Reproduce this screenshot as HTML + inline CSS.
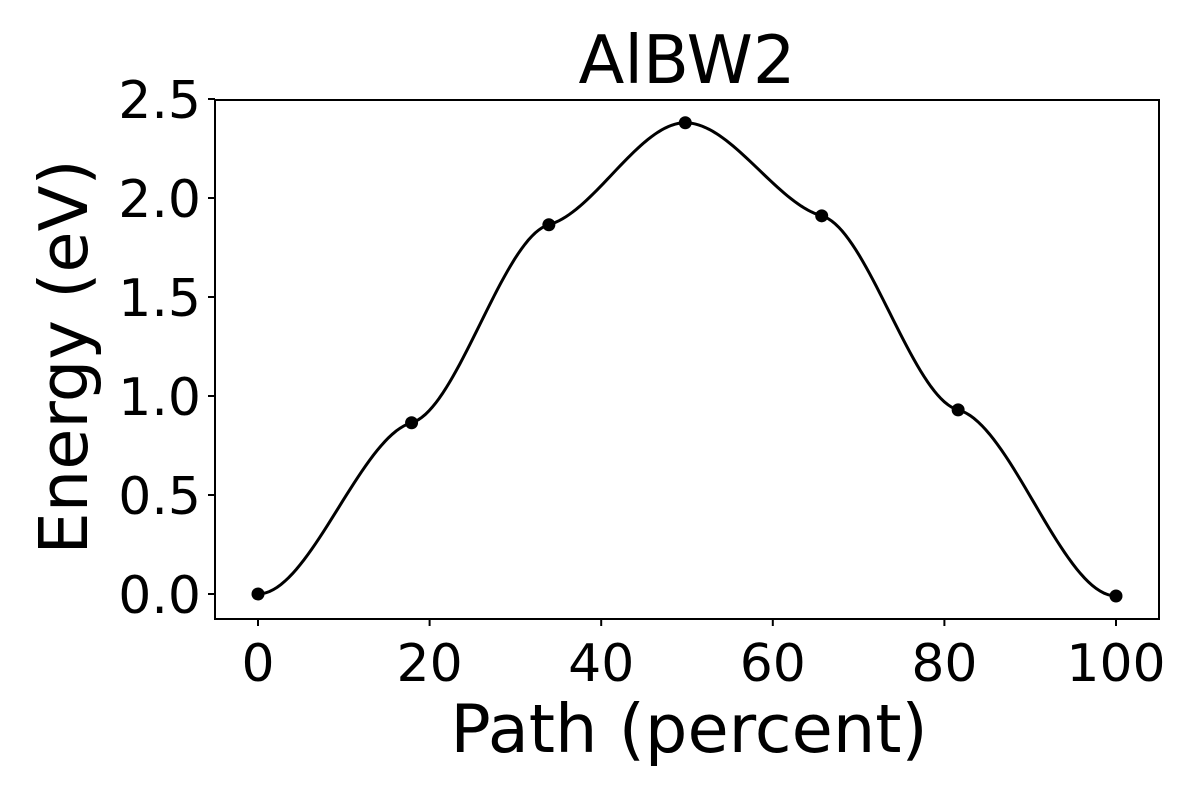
<!DOCTYPE html>
<html><head><meta charset="utf-8"><style>
html,body{margin:0;padding:0;background:#fff;}
svg{display:block;font-family:"DejaVu Sans","Liberation Sans",sans-serif;}
</style></head><body>
<svg id="chart" width="1200" height="800" viewBox="0 0 1200 800">
<rect x="215" y="100" width="944" height="519" fill="none" stroke="#000" stroke-width="2"/>
<g id="xt"></g>
<g id="yt"></g>
<g id="series"></g>
<text x="687" y="83" font-size="67" text-anchor="middle">AlBW2</text>
<text x="689" y="752" font-size="67" text-anchor="middle">Path (percent)</text>
<text transform="translate(87,357) rotate(-90)" font-size="67" text-anchor="middle">Energy (eV)</text>
</svg>
<script>
const xPos = [0, 17.9, 33.9, 49.8, 65.7, 81.6, 100];
const energies = [0, 0.865, 1.865, 2.38, 1.91, 0.93, -0.01];
const slopes = [0, 0.012, 0.012, 0, -0.012, -0.011, 0];
const xTicks = [0, 20, 40, 60, 80, 100];
const yTicks = [0.0, 0.5, 1.0, 1.5, 2.0, 2.5];
const yTickLabels = ["0.0","0.5","1.0","1.5","2.0","2.5"];

const NS = "http://www.w3.org/2000/svg";
function sx(v){ return 258 + v * 8.58; }
function sy(v){ return 594 - v * 198; }
function mk(tag, attrs, parent){ const e = document.createElementNS(NS, tag); for (const k in attrs) e.setAttribute(k, attrs[k]); parent.appendChild(e); return e; }

const xt = document.getElementById('xt');
xTicks.forEach(t => {
  const l = mk('line', {x1:sx(t), x2:sx(t), y1:619, y2:626, stroke:'#000', 'stroke-width':2}, xt);
  
  
  const tx = mk('text', {x:sx(t), y:681, 'font-size':52, 'text-anchor':'middle'}, xt);
  tx.textContent = t;
  
  
});
const yt = document.getElementById('yt');
yTicks.forEach((t, i) => {
  const l = mk('line', {x1:208, x2:215, y1:sy(t), y2:sy(t), stroke:'#000', 'stroke-width':2}, yt);
  
  
  const tx = mk('text', {x:201, y:sy(t) + 19, 'font-size':52, 'text-anchor':'end'}, yt);
  tx.textContent = yTickLabels[i];
  
  
});

const g = document.getElementById('series');
let d = "";
for (let i = 0; i < xPos.length - 1; i++) {
  const x0 = xPos[i], x1 = xPos[i+1], y0 = energies[i], y1 = energies[i+1];
  const h = x1 - x0, m0 = slopes[i] * h, m1 = slopes[i+1] * h;
  for (let k = 0; k <= 40; k++) {
    const t = k / 40;
    const h00 = 2*t*t*t - 3*t*t + 1, h10 = t*t*t - 2*t*t + t, h01 = -2*t*t*t + 3*t*t, h11 = t*t*t - t*t;
    const y = h00*y0 + h10*m0 + h01*y1 + h11*m1;
    const x = x0 + t*h;
    d += (d ? " L" : "M") + sx(x).toFixed(2) + " " + sy(y).toFixed(2);
  }
}
const p = mk('path', {d:d, fill:'none', stroke:'#000', 'stroke-width':3}, g);


xPos.forEach((x, i) => {
  const c = mk('circle', {cx:sx(x), cy:sy(energies[i]), r:6.5, fill:'#000'}, g);
  
  
});
</script>
</body></html>
